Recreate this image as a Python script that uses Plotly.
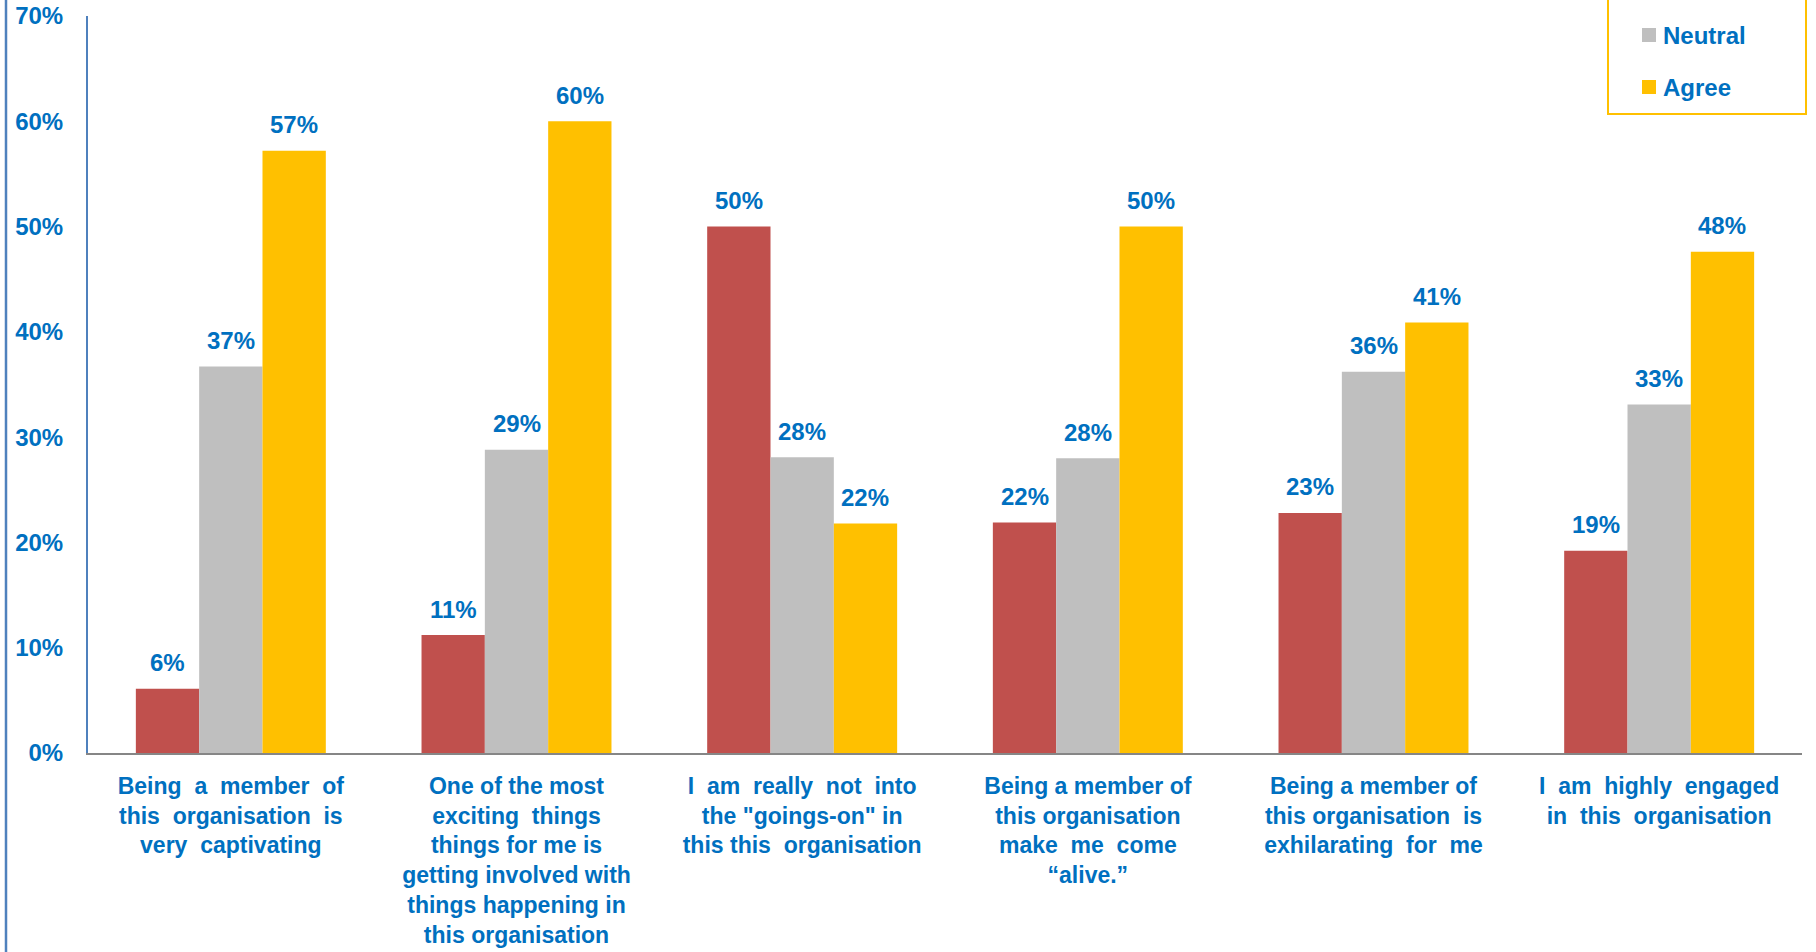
import plotly.graph_objects as go

# ---- data -----------------------------------------------------------------
categories = [
    "Being a member of this organisation is very captivating",
    "One of the most exciting things things for me is getting involved with things happening in this organisation",
    'I am really not into the "goings-on" in this this organisation',
    "Being a member of this organisation make me come “alive.”",
    "Being a member of this organisation is exhilarating for me",
    "I am highly engaged in this organisation",
]

S = "\u00a0 "  # widened word gap used for the justified lines
tick_labels = [
    f"Being{S}a{S}member{S}of<br>this{S}organisation{S}is<br>very{S}captivating",
    f"One of the most<br>exciting{S}things<br>things for me is<br>getting involved with<br>things happening in<br>this organisation",
    f"I{S}am{S}really{S}not{S}into<br>the \"goings-on\" in<br>this this{S}organisation",
    f"Being a member of<br>this organisation<br>make{S}me{S}come<br>“alive.”",
    f"Being a member of<br>this organisation{S}is<br>exhilarating{S}for{S}me",
    f"I{S}am{S}highly{S}engaged<br>in{S}this{S}organisation",
]

series_names = ["Disagree", "Neutral", "Agree"]
disagree = [6.1, 11.2, 50.0, 21.9, 22.8, 19.2]
neutral = [36.7, 28.8, 28.1, 28.0, 36.2, 33.1]
agree = [57.2, 60.0, 21.8, 50.0, 40.9, 47.6]
series_values = [disagree, neutral, agree]

y_ticks = [0, 10, 20, 30, 40, 50, 60, 70]
y_tick_labels = ["0%", "10%", "20%", "30%", "40%", "50%", "60%", "70%"]

# legend rows that fall inside the page (the first row sits above the top edge)
legend_entries = ["Neutral", "Agree"]

# ---- style ----------------------------------------------------------------
colors = ["#C0504D", "#BFBFBF", "#FFC000"]
text_blue = "#0070C0"
axis_blue = "#4F81BD"
FONT = "Liberation Sans, Arial, sans-serif"

W, H = 1816, 952
M = dict(l=88, r=14, t=16, b=199)
plot_w = W - M["l"] - M["r"]
plot_h = H - M["t"] - M["b"]
bargap = 0.335
bar_px = plot_w / len(categories) * (1 - bargap) / len(series_names)


def px_x(px):
    return (px - M["l"]) / plot_w


def px_y(py):
    return (H - M["b"] - py) / plot_h


fig = go.Figure()
for name, vals, col in zip(series_names, series_values, colors):
    fig.add_trace(go.Bar(
        name=name, x=categories, y=vals,
        marker=dict(color=col, line=dict(width=0)),
        showlegend=False,
    ))

# value labels above each bar
label_font = dict(family=FONT, size=24, color=text_blue, weight="bold")
annotations = []
for i, vals in enumerate(series_values):
    for cat, v in zip(categories, vals):
        annotations.append(dict(
            x=cat, y=v, xref="x", yref="y", text=f"{round(v)}%",
            showarrow=False, xshift=(i - 1) * bar_px, yshift=26,
            yanchor="middle", font=label_font,
        ))

# legend box (its top edge runs off the top of the page)
shapes = [
    dict(type="rect", xref="paper", yref="paper",
         x0=px_x(1608), x1=px_x(1806), y0=px_y(114), y1=px_y(-70),
         line=dict(color="#FFC000", width=2), fillcolor="white", layer="above"),
    # page rule on the far left
    dict(type="line", xref="paper", yref="paper",
         x0=px_x(6), x1=px_x(6), y0=px_y(0), y1=px_y(H),
         line=dict(color=axis_blue, width=2.5)),
]
legend_rows = {"Neutral": 35, "Agree": 87}
for name, col in zip(series_names, colors):
    if name not in legend_entries:
        continue
    cy = legend_rows[name]
    shapes.append(dict(type="rect", xref="paper", yref="paper",
                       x0=px_x(1642), x1=px_x(1656), y0=px_y(cy + 7), y1=px_y(cy - 7),
                       line=dict(width=0), fillcolor=col, layer="above"))
    annotations.append(dict(x=px_x(1661), y=px_y(cy), xref="paper", yref="paper",
                            text=name, showarrow=False, xanchor="left", yanchor="middle",
                            font=label_font))

fig.update_layout(
    width=W, height=H, margin=M,
    paper_bgcolor="white", plot_bgcolor="white",
    barmode="group", bargap=bargap, bargroupgap=0,
    font=dict(family=FONT, color=text_blue),
    xaxis=dict(
        type="category", tickvals=categories, ticktext=tick_labels,
        showline=True, linecolor="#868686", linewidth=2,
        ticks="outside", ticklen=11, tickcolor="rgba(0,0,0,0)",
        tickfont=dict(family=FONT, size=23, color=text_blue, weight="bold"),
        showgrid=False, zeroline=False, automargin=False,
    ),
    yaxis=dict(
        range=[0, 70], tickvals=y_ticks, ticktext=y_tick_labels,
        showline=True, linecolor=axis_blue, linewidth=2,
        ticks="outside", ticklen=18, tickcolor="rgba(0,0,0,0)",
        tickfont=dict(family=FONT, size=24, color=text_blue, weight="bold"),
        showgrid=False, zeroline=False, automargin=False,
    ),
    shapes=shapes,
    annotations=annotations,
)

fig.write_html("out.html")
